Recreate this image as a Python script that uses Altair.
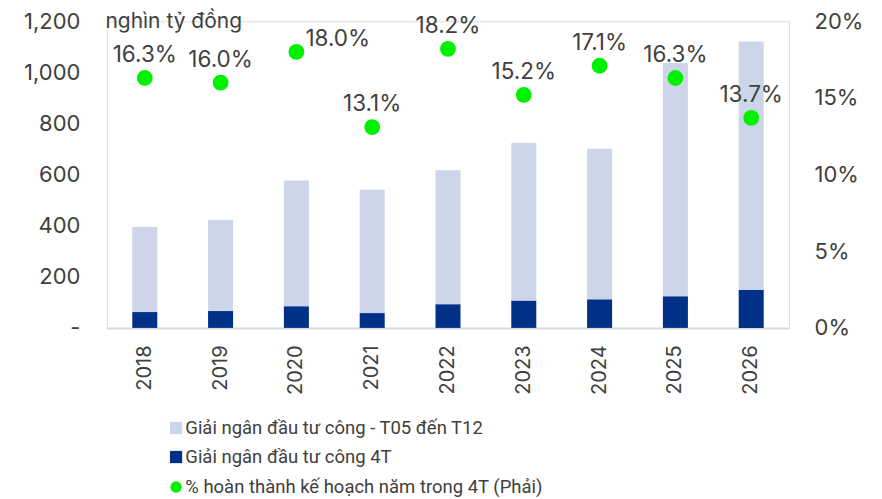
import altair as alt
import pandas as pd

years = ["2018", "2019", "2020", "2021", "2022", "2023", "2024", "2025", "2026"]
t05_t12 = [333, 356, 492, 483, 524, 617, 589, 913, 973]
t4 = [62, 66, 85, 58, 93, 107, 112, 124, 148]
pct = [16.3, 16.0, 18.0, 13.1, 18.2, 15.2, 17.1, 16.3, 13.7]

S1 = "Giải ngân đầu tư công - T05 đến T12"
S2 = "Giải ngân đầu tư công 4T"
S3 = "% hoàn thành kế hoạch năm trong 4T (Phải)"

LIGHT = "#cdd5e8"
DARK = "#003087"
GREEN = "#00f000"
TXT = "#404040"
FONT = "Inter"
LFONT = "Roboto"

rows = []
for y, a, b in zip(years, t05_t12, t4):
    rows.append({"year": y, "series": S2, "value": b, "ord": 0})
    rows.append({"year": y, "series": S1, "value": a, "ord": 1})
bar_df = pd.DataFrame(rows)
pt_df = pd.DataFrame({"year": years, "pct": pct, "lbl": [S3] * len(years)})

x_enc = alt.X(
    "year:N",
    scale=alt.Scale(paddingInner=0.67, paddingOuter=0.335),
    axis=alt.Axis(
        title=None, labelAngle=-90, labelFontSize=20, labelColor=TXT, labelFont=FONT,
        ticks=False, labelPadding=17, domainColor="#d9d9d9", domainWidth=2,
    ),
)

bars = alt.Chart(bar_df).mark_bar().encode(
    x=x_enc,
    y=alt.Y(
        "value:Q",
        stack="zero",
        scale=alt.Scale(domain=[0, 1200], nice=False),
        axis=alt.Axis(
            title="nghìn tỷ đồng", titleAngle=0, titleAlign="left", titleBaseline="middle",
            titleX=-2, titleY=0, titleFontSize=21, titleFontWeight="normal", titleColor=TXT,
            titleFont=FONT,
            values=[0, 200, 400, 600, 800, 1000, 1200],
            labelExpr="datum.value == 0 ? '-\u2007\u2007' : format(datum.value, ',')",
            labelFontSize=22, labelColor=TXT, labelFont=FONT, labelPadding=27,
            ticks=False, domain=False, grid=False,
        ),
    ),
    color=alt.Color(
        "series:N",
        scale=alt.Scale(domain=[S1, S2], range=[LIGHT, DARK]),
        legend=alt.Legend(
            title=None, orient="none", legendX=60, legendY=398, direction="vertical",
            symbolType="square", symbolSize=150, symbolStrokeWidth=0, labelFontSize=18.5,
            labelColor=TXT, labelFont=LFONT, rowPadding=10, labelOffset=0, padding=0,
            labelLimit=0,
        ),
    ),
    order=alt.Order("ord:Q"),
)

y2 = alt.Y(
    "pct:Q",
    scale=alt.Scale(domain=[0, 20], nice=False),
    axis=alt.Axis(
        orient="right", title=None, values=[0, 5, 10, 15, 20],
        labelExpr="datum.value + '%'", labelFontSize=22, labelColor=TXT, labelFont=FONT,
        labelPadding=25, ticks=False, domain=False, grid=False,
    ),
)

points = alt.Chart(pt_df).mark_point(filled=True, shape="circle", size=250, opacity=1).encode(
    x=alt.X("year:N"),
    y=y2,
    color=alt.Color(
        "lbl:N",
        scale=alt.Scale(domain=[S3], range=[GREEN]),
        legend=alt.Legend(
            title=None, orient="none", legendX=60, legendY=457, symbolType="circle",
            symbolSize=130, symbolStrokeWidth=0, labelFontSize=18.5, labelColor=TXT,
            labelFont=LFONT, labelOffset=0, padding=0, labelLimit=0,
        ),
    ),
)

labels_base = alt.Chart(pt_df).transform_calculate(
    txt="format(datum.pct, '.1f') + '%'"
)

labels = labels_base.transform_filter("datum.year != '2020'").mark_text(
    fontSize=22.5, color=TXT, font=FONT, dy=-23, baseline="middle"
).encode(x=alt.X("year:N"), y=alt.Y("pct:Q"), text="txt:N")

labels_2020 = labels_base.transform_filter("datum.year == '2020'").mark_text(
    fontSize=22.5, color=TXT, font=FONT, dx=9, dy=-13, align="left", baseline="middle"
).encode(x=alt.X("year:N"), y=alt.Y("pct:Q"), text="txt:N")

chart = alt.layer(bars, alt.layer(points, labels, labels_2020)).resolve_scale(
    y="independent", color="independent"
).properties(
    width=683, height=307, autosize=alt.AutoSizeParams(type="none"),
    padding={"left": 99, "top": 13, "right": 85, "bottom": 170},
).configure_view(stroke=None).configure(font=FONT)

chart.save("out.html", embed_options={"renderer": "svg", "actions": False})
